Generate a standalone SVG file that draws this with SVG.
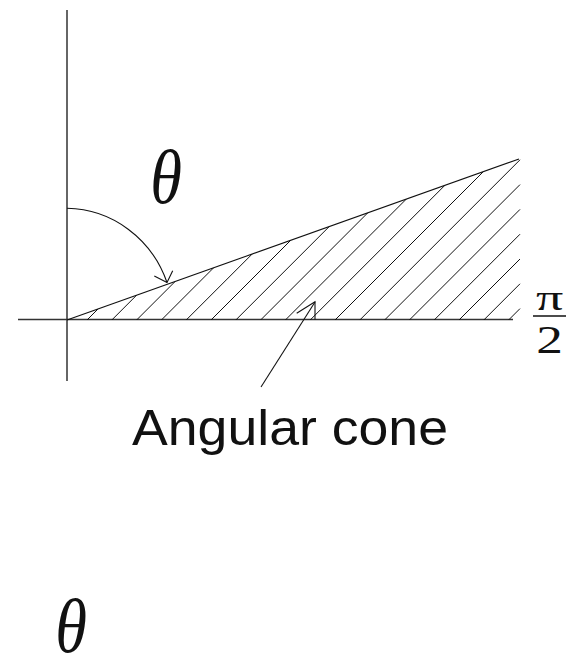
<svg xmlns="http://www.w3.org/2000/svg" width="573" height="659" viewBox="0 0 573 659">
<style>
.ax{stroke:#333;stroke-width:1.5;fill:none}
.ln{stroke:#111;stroke-width:1.1;fill:none}
.ht{stroke:#111;stroke-width:1;fill:none}
.math{font-family:"Liberation Serif","DejaVu Serif",serif;fill:#111}
.lbl{font-family:"Liberation Sans",Arial,sans-serif;fill:#111}
</style>
<rect width="573" height="659" fill="#fff"/>
<g id="axes">
<line class="ax" x1="67" y1="10" x2="67" y2="381"/>
<line class="ax" x1="18" y1="319.5" x2="513" y2="319.5"/>
</g>
<g id="cone">
<line class="ln" x1="67" y1="320" x2="519" y2="159"/>
<g id="hatch" class="ht">
<line x1="87" y1="320" x2="98.1" y2="308.9"/>
<line x1="111.8" y1="320" x2="136.6" y2="295.2"/>
<line x1="136.6" y1="320" x2="175.1" y2="281.5"/>
<line x1="161.4" y1="320" x2="213.6" y2="267.8"/>
<line x1="186.2" y1="320" x2="252.1" y2="254.1"/>
<line x1="211" y1="320" x2="290.7" y2="240.3"/>
<line x1="235.8" y1="320" x2="329.2" y2="226.6"/>
<line x1="260.6" y1="320" x2="367.7" y2="212.9"/>
<line x1="285.4" y1="320" x2="406.2" y2="199.2"/>
<line x1="310.2" y1="320" x2="444.8" y2="185.4"/>
<line x1="335" y1="320" x2="483.3" y2="171.7"/>
<line x1="359.8" y1="320" x2="520" y2="159.8"/>
<line x1="384.6" y1="320" x2="520" y2="184.6"/>
<line x1="409.4" y1="320" x2="520" y2="209.4"/>
<line x1="434.2" y1="320" x2="520" y2="234.2"/>
<line x1="459" y1="320" x2="520" y2="259"/>
<line x1="483.8" y1="320" x2="520" y2="283.8"/>
<line x1="508.6" y1="320" x2="520" y2="308.6"/>
</g>
</g>
<g id="connectors">
<path class="ln" d="M67,208.3 A108,112 0 0 1 167,282.5"/>
<polyline class="ln" points="154.3,276 167,282.5 172.7,270.7"/>
<line class="ln" x1="261" y1="387" x2="315" y2="302"/>
<polyline class="ln" points="296.7,313.3 315,301.7 315,319.5"/>
</g>
<g id="theta-top"><text class="math" transform="translate(166,203) scale(0.85,1)" font-size="76" font-style="italic" text-anchor="middle">θ</text></g>
<g id="pi-half">
<text class="math" transform="translate(549.5,310) scale(1.5,1)" font-size="36" text-anchor="middle">π</text>
<line x1="533" y1="316" x2="566" y2="316" stroke="#111" stroke-width="1.6"/>
<text class="math" transform="translate(549.5,353) scale(1.3,1)" font-size="41" text-anchor="middle">2</text>
</g>
<g id="label"><text class="lbl" x="132" y="445" font-size="50" textLength="316" lengthAdjust="spacingAndGlyphs">Angular cone</text></g>
<g id="theta-bottom"><text class="math" transform="translate(71,652) scale(0.85,1)" font-size="76" font-style="italic" text-anchor="middle">θ</text></g>
</svg>
